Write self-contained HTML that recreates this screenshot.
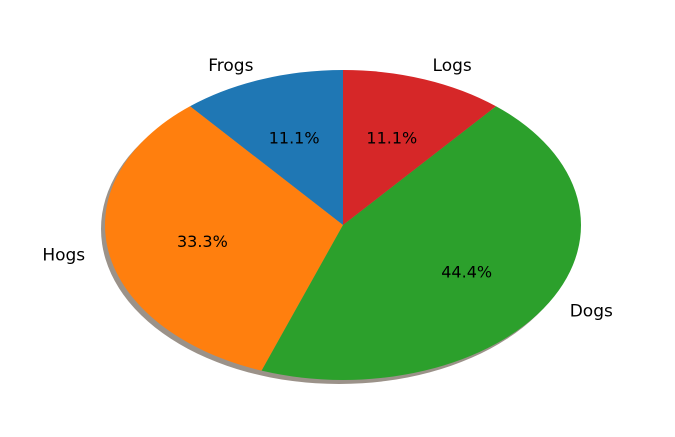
<!DOCTYPE html>
<html><head><meta charset="utf-8">
<style>
html,body{margin:0;padding:0;background:#fff;}
svg{display:block;font-family:"DejaVu Sans","Liberation Sans",sans-serif;}
</style></head>
<body>
<svg id="chart" width="675" height="437"></svg>
<script>
const categories = ["Frogs","Hogs","Dogs","Logs"];
const values = [10, 30, 40, 10];
const colors = ["#1f77b4","#ff7f0e","#2ca02c","#d62728"];
const cx = 343, cy = 225, rx = 238, ry = 155, startAngle = 90;
const NS = "http://www.w3.org/2000/svg";
const svg = document.getElementById("chart");
const total = values.reduce((a,b)=>a+b,0);
function pt(deg, f){const r=deg*Math.PI/180;return [cx+f*rx*Math.cos(r), cy-f*ry*Math.sin(r)];}
const sh = document.createElementNS(NS,"ellipse");


sh.setAttribute("cx", cx-4); sh.setAttribute("cy", cy+4);
sh.setAttribute("rx", rx); sh.setAttribute("ry", ry);
sh.setAttribute("fill", "#8a7f74"); sh.setAttribute("opacity","0.85");
svg.appendChild(sh);
let a = startAngle;
values.forEach((v,i)=>{
  const span = v/total*360;
  const a1 = a, a2 = a+span;
  const p1 = pt(a1,1), p2 = pt(a2,1);
  const large = span>180?1:0;
  const path = document.createElementNS(NS,"path");
  
  
  path.setAttribute("d", `M${cx},${cy} L${p1[0]},${p1[1]} A${rx},${ry} 0 ${large} 0 ${p2[0]},${p2[1]} Z`);
  path.setAttribute("fill", colors[i]);
  svg.appendChild(path);
  const mid = (a1+a2)/2;
  const lp = pt(mid,1.1);
  const lt = document.createElementNS(NS,"text");
  
  
  lt.setAttribute("x", lp[0]); lt.setAttribute("y", lp[1]+6);
  lt.setAttribute("font-size","17"); lt.setAttribute("fill","#000");
  lt.setAttribute("text-anchor", Math.cos(mid*Math.PI/180)<0?"end":"start");
  lt.textContent = categories[i];
  svg.appendChild(lt);
  const pp = pt(mid,0.6);
  const pctText = document.createElementNS(NS,"text");
  
  
  pctText.setAttribute("x", pp[0]); pctText.setAttribute("y", pp[1]+6);
  pctText.setAttribute("font-size","16"); pctText.setAttribute("fill","#000");
  pctText.setAttribute("text-anchor","middle");
  pctText.textContent = (v/total*100).toFixed(1)+"%";
  svg.appendChild(pctText);
  a = a2;
});
</script>
</body></html>
